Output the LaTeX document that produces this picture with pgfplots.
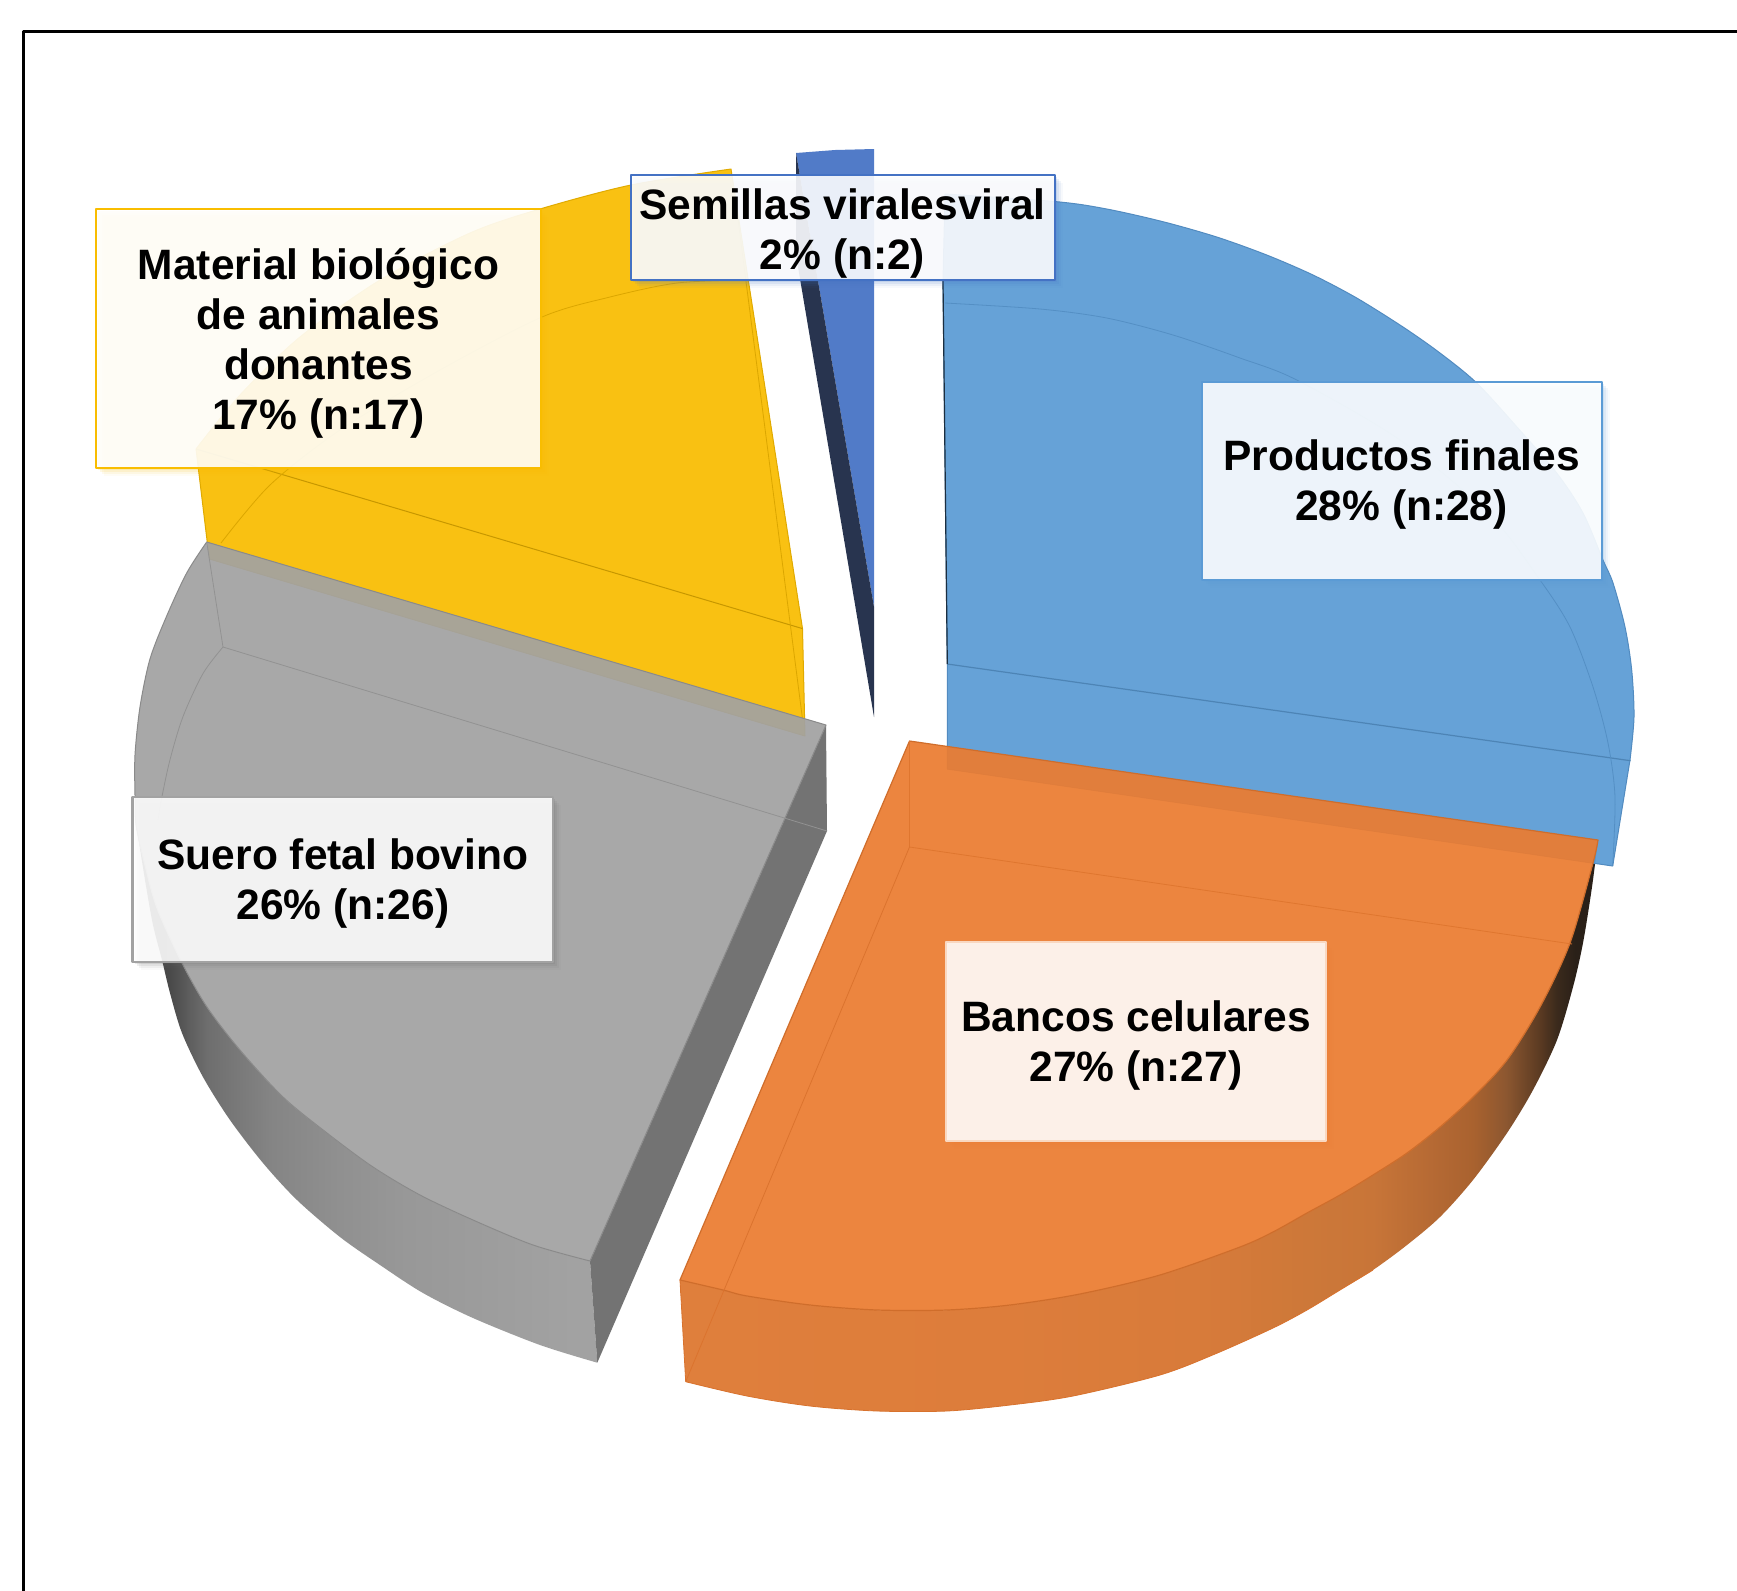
\documentclass[border=0pt]{standalone}
\usepackage{fontspec}
\setmainfont{Liberation Sans}
\usepackage{pgfplots}
\pgfplotsset{compat=1.18}

% Office palette of the slices
\definecolor{cBlue}{HTML}{5B9BD5}
\definecolor{cOrange}{HTML}{EB7C31}
\definecolor{cGray}{HTML}{A2A2A2}
\definecolor{cYellow}{HTML}{F9BD00}
\definecolor{cNavy}{HTML}{4472C4}
\definecolor{cNavySide}{HTML}{28344F}

\tikzset{
  labeltext/.style={font=\bfseries\fontsize{21.25}{25}\selectfont,align=center,text=black,inner sep=0pt},
}

% Curved walls, lit from the front and falling to dark at the edge
% (the path's width spans the middle 25bp--75bp of a shading)
\pgfdeclarehorizontalshading{orangewall}{100bp}{
  rgb(0bp)=(0.875,0.498,0.235);
  rgb(25bp)=(0.875,0.498,0.235);
  rgb(42.5bp)=(0.867,0.490,0.231);
  rgb(53bp)=(0.847,0.482,0.227);
  rgb(59.15bp)=(0.804,0.471,0.224);
  rgb(62.75bp)=(0.784,0.459,0.220);
  rgb(66.4bp)=(0.702,0.408,0.200);
  rgb(68.2bp)=(0.663,0.384,0.184);
  rgb(70bp)=(0.549,0.341,0.188);
  rgb(71.85bp)=(0.353,0.227,0.133);
  rgb(72.75bp)=(0.231,0.165,0.110);
  rgb(73.75bp)=(0.165,0.125,0.094);
  rgb(100bp)=(0.165,0.125,0.094)}
\pgfdeclarehorizontalshading{graywall}{100bp}{
  rgb(0bp)=(0.235,0.235,0.235);
  rgb(25bp)=(0.235,0.235,0.235);
  rgb(28.8bp)=(0.29,0.29,0.29);
  rgb(31bp)=(0.373,0.373,0.373);
  rgb(32.8bp)=(0.431,0.431,0.431);
  rgb(36.4bp)=(0.478,0.478,0.478);
  rgb(40bp)=(0.522,0.522,0.522);
  rgb(47.2bp)=(0.565,0.565,0.565);
  rgb(54.4bp)=(0.596,0.596,0.596);
  rgb(65.3bp)=(0.62,0.62,0.62);
  rgb(72.4bp)=(0.635,0.635,0.635);
  rgb(100bp)=(0.635,0.635,0.635)}

% Data label: soft shadow, translucent white panel, coloured border
\newcommand{\labelbox}[6]{%
  \fill[#6,fill opacity=.14] ([xshift=1.0pt,yshift=-1.0pt]axis cs:#1,#2) rectangle ([xshift=1.0pt,yshift=-1.0pt]axis cs:#3,#4);
  \fill[#6,fill opacity=.10] ([xshift=2.0pt,yshift=-2.0pt]axis cs:#1,#2) rectangle ([xshift=2.0pt,yshift=-2.0pt]axis cs:#3,#4);
  \fill[#6,fill opacity=.07] ([xshift=3.0pt,yshift=-3.0pt]axis cs:#1,#2) rectangle ([xshift=3.0pt,yshift=-3.0pt]axis cs:#3,#4);
  \fill[#6,fill opacity=.04] ([xshift=4.0pt,yshift=-4.0pt]axis cs:#1,#2) rectangle ([xshift=4.0pt,yshift=-4.0pt]axis cs:#3,#4);
  \path[fill=white,fill opacity=.885,draw=#5,line width=1.1pt] (axis cs:#1,#2) rectangle (axis cs:#3,#4);
}

\begin{document}
\begin{tikzpicture}
\begin{axis}[
  scale only axis,
  width=868.5pt, height=795.5pt,
  xmin=0, xmax=1737, ymin=0, ymax=1591,
  y dir=reverse,
  hide axis,
  line join=round,
]
% page ground and outer frame
\addplot[fill=white,draw=none] coordinates {(0,0) (1737,0) (1737,1591) (0,1591)} -- cycle;
\addplot[black,line width=1.5pt] coordinates {(23,1600) (23,31.5) (1745,31.5)};

% --- curved walls, each masked by its slice's top outline
\addplot[smooth,shading=graywall,draw=none] coordinates {
  (135,817) (145,880) (153,925) (162,960) (170,993) (182,1033) (203,1077) (230,1120) (263,1163)
  (297,1200) (340,1237) (380,1265) (423,1293) (473,1318) (540,1345) (597.3,1362.7)}
  -- (axis cs:590,1261) -- (axis cs:400,900) -- cycle;
\addplot[fill=black!55,draw=none] coordinates {(826,725) (827,831) (597.3,1362.7) (590,1261)} -- cycle;
\addplot[smooth,fill=white,draw=none] coordinates {
  (206.7,542) (186.7,573) (166.7,616) (150,659) (140,707) (135,755) (135,795) (136,825) (145,865) (157,908)
  (182,963) (207,1007) (240,1050) (283,1097) (327,1133) (373,1167) (420,1195) (473,1220) (533,1245) (590,1261)}
  -- (axis cs:826,725) -- cycle;

\addplot[smooth,shading=orangewall,draw=none] coordinates {
  (685.7,1381.7) (747,1396) (810,1406) (877,1411) (947,1411) (1010,1405) (1073,1396) (1160,1375) (1215,1354)
  (1273,1328) (1307,1310) (1340,1290) (1373,1270) (1407,1245) (1440,1217) (1473,1180) (1507,1133)
  (1533,1090) (1557,1040) (1573,987) (1583,943) (1592,887) (1598,840)}
  -- (axis cs:1200,900) -- (axis cs:680,1280) -- cycle;
\addplot[smooth,fill=white,draw=none] coordinates {
  (1598,840) (1593,863) (1570,943) (1540,1007) (1507,1060) (1473,1097) (1440,1127) (1407,1153) (1373,1175)
  (1340,1195) (1307,1213) (1273,1232) (1240,1247) (1160,1275) (1080,1294) (1010,1305) (947,1310) (877,1310)
  (810,1305) (747,1296) (723,1290) (680,1280)} -- (axis cs:909.5,741) -- cycle;

% --- Material biologico de animales donantes
\addplot[smooth,fill=cYellow,fill opacity=.93,draw=cYellow!90!black,line width=.5pt] coordinates {
  (731,169) (631,185) (540,209) (470,233) (380,280) (300,337) (240,395) (196,449)}
  -- (axis cs:207,540) -- (axis cs:209.5,559) -- (axis cs:805,736) -- (axis cs:802.5,628.6) -- cycle;
\addplot[color=cYellow!80!black,line width=.5pt] coordinates {(196,449) (802.5,628.6)};
\addplot[color=cYellow!88!black,line width=.4pt] coordinates {(736,204) (802.5,719)};
\addplot[smooth,color=cYellow!88!black,line width=.4pt] coordinates {
  (745,280) (677,283) (610,297) (542,317) (440,370) (340,430) (270,485) (221,543)};

% --- Semillas virales
\addplot[fill=cNavy,fill opacity=.93,draw=none] coordinates {(796,153) (835,150) (874,149) (874,607)} -- cycle;
\addplot[fill=cNavySide,draw=none] coordinates {(796,153) (796,255) (874,717) (874,607)} -- cycle;

% --- Productos finales
\addplot[smooth,fill=cBlue,fill opacity=.93,draw=cBlue!90!black,line width=.5pt] coordinates {
  (945,194) (1056.7,201.7) (1106.7,209) (1163,221.7) (1216.7,237) (1266.7,255) (1313,275) (1356.7,298)
  (1403,327) (1440,353) (1476.7,383) (1516.7,426.7) (1556.7,473) (1583,513) (1603,560) (1613,583)
  (1625,627) (1631.7,670) (1634,717) (1630,760)}
  -- (axis cs:1612.7,866) -- (axis cs:947.3,769) -- (axis cs:947.3,664) -- (axis cs:943,281) -- cycle;
\addplot[color=cBlue!85!black,line width=.6pt] coordinates {(947.3,664) (1630.5,760.7)};
\addplot[smooth,color=cBlue!92!black,line width=.4pt] coordinates {
  (945,303) (1040,309) (1106.7,318) (1173,335) (1240,358) (1296.7,380) (1400,440) (1490,515)
  (1540,580) (1570,627) (1593,687) (1608,743) (1615,797) (1612.7,866)};
\addplot[color=cBlue!30!black,line width=.6pt] coordinates {(943,281) (947.3,664)};

% --- Suero fetal bovino, top face
\addplot[smooth,fill=cGray,fill opacity=.93,draw=cGray!85!black,line width=.5pt] coordinates {
  (206.7,542) (186.7,573) (166.7,616) (150,659) (140,707) (135,755) (135,795) (136,825) (145,865) (157,908)
  (182,963) (207,1007) (240,1050) (283,1097) (327,1133) (373,1167) (420,1195) (473,1220) (533,1245) (590,1261)}
  -- (axis cs:826,725) -- cycle;
\addplot[color=cGray!90!black,line width=.4pt] coordinates {(206.7,542) (223,647) (827,831)};
\addplot[smooth,color=cGray!90!black,line width=.4pt] coordinates {(223,647) (203,673.5) (183,716.6) (170,759.7) (161.7,798) (158,820)};

% --- Bancos celulares, top face
\addplot[smooth,fill=cOrange,fill opacity=.93,draw=cOrange!88!black,line width=.6pt] coordinates {
  (1598,840) (1593,863) (1570,943) (1540,1007) (1507,1060) (1473,1097) (1440,1127) (1407,1153) (1373,1175)
  (1340,1195) (1307,1213) (1273,1232) (1240,1247) (1160,1275) (1080,1294) (1010,1305) (947,1310) (877,1310)
  (810,1305) (747,1296) (723,1290) (680,1280)} -- (axis cs:909.5,741) -- cycle;
\addplot[color=cOrange!95!black,line width=.4pt] coordinates {(909.5,741) (909.5,847)};
\addplot[color=cOrange!95!black,line width=.4pt] coordinates {(909.5,847) (1572,944)};
\addplot[color=cOrange!93!black,line width=.4pt] coordinates {(909.5,847) (685.7,1381.7)};
\addplot[color=cOrange!92!black,line width=.4pt] coordinates {(680,1280) (685.7,1381.7)};
\addplot[smooth,color=cOrange!92!black,line width=.4pt] coordinates {
  (685.7,1381.7) (747,1396) (810,1406) (877,1411) (947,1411) (1010,1405) (1073,1396) (1160,1375) (1215,1354)
  (1273,1328) (1307,1310) (1340,1290) (1373,1270)};

% --- data labels
\labelbox{96}{209}{540.8}{468}{cYellow}{cYellow}
\labelbox{631}{175}{1054.7}{280}{cNavy}{cNavy}
\labelbox{1202}{381.6}{1601.7}{579.6}{cBlue}{cBlue}
\labelbox{946}{942}{1326}{1140.6}{cOrange!30}{cOrange}
\labelbox{132.5}{796.6}{553}{962}{cGray}{black!60}

\node[labeltext] at (axis cs:318.5,343) {Material biológico\\de animales\\donantes\\17\% (n:17)};
\node[labeltext] at (axis cs:842.5,233.5) {Semillas viralesviral\\2\% (n:2)};
\node[labeltext] at (axis cs:1401.5,484.5) {Productos finales\\28\% (n:28)};
\node[labeltext] at (axis cs:1136,1045.5) {Bancos celulares\\27\% (n:27)};
\node[labeltext] at (axis cs:343,883.5) {Suero fetal bovino\\26\% (n:26)};
\end{axis}
\end{tikzpicture}
\end{document}
